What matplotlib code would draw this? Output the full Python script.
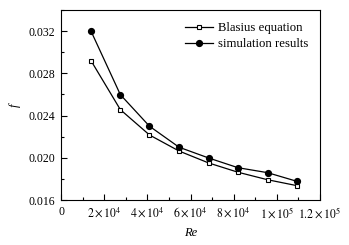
import matplotlib
matplotlib.use("Agg")
import matplotlib.pyplot as plt
from matplotlib.ticker import FixedLocator, MultipleLocator

plt.rcParams["font.family"] = ["Liberation Serif", "DejaVu Serif"]
plt.rcParams["mathtext.fontset"] = "stix"

# data
re_values = [13900, 27500, 41000, 54700, 68400, 82000, 95700, 109300]
f_blasius = [0.0292, 0.02456, 0.02216, 0.02064, 0.01951, 0.01863, 0.01792, 0.01736]
f_simulation = [0.0320, 0.02598, 0.02299, 0.0210, 0.01998, 0.01906, 0.01859, 0.01777]

x_ticks = [0, 20000, 40000, 60000, 80000, 100000, 120000]
x_tick_labels = ["0", r"$2\times10^{4}$", r"$4\times10^{4}$", r"$6\times10^{4}$",
                 r"$8\times10^{4}$", r"$1\times10^{5}$", r"$1.2\times10^{5}$"]
y_ticks = [0.016, 0.020, 0.024, 0.028, 0.032]
y_tick_labels = ["0.016", "0.020", "0.024", "0.028", "0.032"]

fig = plt.figure(figsize=(3.49, 2.45), dpi=100)
ax = fig.add_axes([61 / 349, 45 / 245, 259 / 349, 190 / 245])

ax.plot(re_values, f_blasius, "-s", color="black", lw=0.9, ms=3.2,
        mfc="white", mec="black", mew=0.8, label="Blasius equation")
ax.plot(re_values, f_simulation, "-o", color="black", lw=0.9, ms=4.2,
        mfc="black", mec="black", label="simulation results")

ax.set_xlim(0, 120000)
ax.set_ylim(0.016, 0.034)
ax.xaxis.set_major_locator(FixedLocator(x_ticks))
ax.set_xticklabels(x_tick_labels)
ax.xaxis.set_minor_locator(MultipleLocator(10000))
ax.yaxis.set_major_locator(FixedLocator(y_ticks))
ax.set_yticklabels(y_tick_labels)
ax.yaxis.set_minor_locator(MultipleLocator(0.002))

ax.tick_params(which="both", direction="in", top=False, right=False,
               labelsize=8.5, width=0.8)
ax.tick_params(which="major", length=4, pad=4)
ax.tick_params(which="minor", length=2)
for s in ax.spines.values():
    s.set_linewidth(0.8)

ax.set_xlabel("Re", fontsize=9, style="italic", labelpad=5)
ax.set_ylabel("f", fontsize=9, style="italic", labelpad=6, rotation=90)

ax.legend(loc="upper left", frameon=False, fontsize=9.2, handlelength=2.2,
          handletextpad=0.4, borderpad=0, borderaxespad=0, labelspacing=0.3,
          bbox_to_anchor=(0.479, 0.935))

fig.savefig("out.png", dpi=100)
